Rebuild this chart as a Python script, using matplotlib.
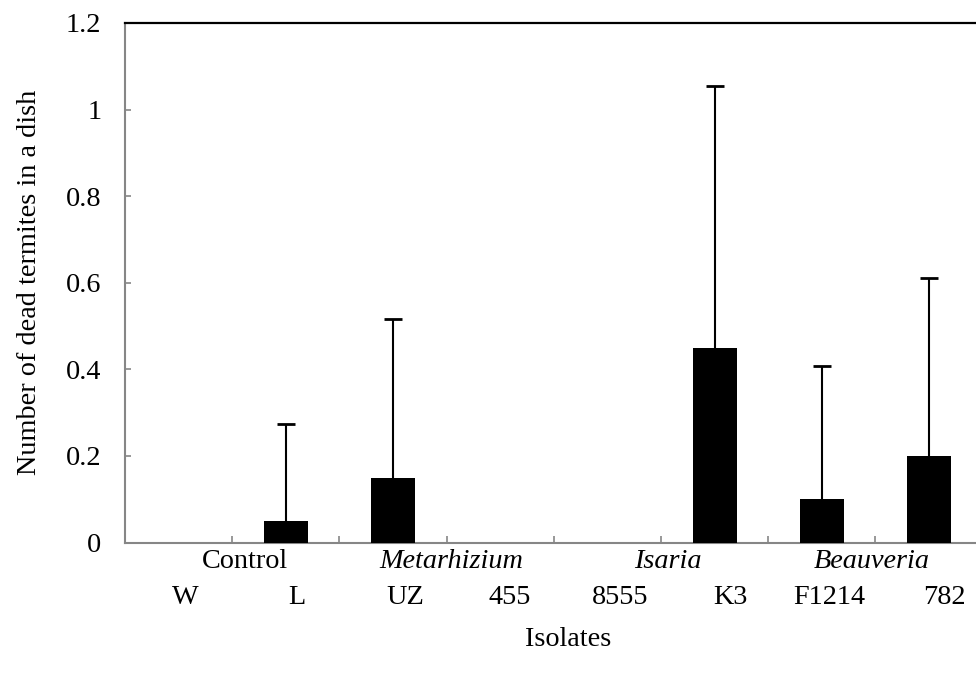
import matplotlib
matplotlib.use("Agg")
import matplotlib.pyplot as plt
from matplotlib.transforms import blended_transform_factory, ScaledTranslation
import numpy as np

isolates = ["W", "L", "UZ", "455", "8555", "K3", "F1214", "782"]
means = [0.0, 0.05, 0.15, 0.0, 0.0, 0.45, 0.10, 0.20]
sds = [0.0, 0.224, 0.366, 0.0, 0.0, 0.605, 0.308, 0.41]
groups = ["Control", "Metarhizium", "Isaria", "Beauveria"]
group_italic = [False, True, True, True]
yticks = [0, 0.2, 0.4, 0.6, 0.8, 1.0, 1.2]
ytick_labels = ["0", "0.2", "0.4", "0.6", "0.8", "1", "1.2"]

# small horizontal label nudges (pixels), as laid out in the original
iso_shift = [7, 11, 12, 9, 13, 16, 8, 15]
grp_shift = [13, 5, 7, -4]

plt.rcParams['font.family'] = ['Liberation Serif', 'DejaVu Serif']
FS = 20.3
GRAY = '#868686'

W, H = 976, 673
fig = plt.figure(figsize=(W / 100, H / 100), dpi=100)
ax = fig.add_axes([125 / W, 1 - 542.5 / H, 857.6 / W, 519.5 / H])

x = np.arange(len(isolates))
m = np.array(means)
s = np.array(sds)
nz = m > 0
ax.bar(x[nz], m[nz], width=0.41, color='black', linewidth=0, zorder=3)
# upward-only error bars (whisker + top cap)
ex = x[s > 0]
ax.vlines(ex, m[s > 0], (m + s)[s > 0], colors='black', linewidth=1.5, zorder=2)
ax.plot(ex, (m + s)[s > 0], linestyle='none', marker='_', markersize=13,
        markeredgewidth=2.0, color='black', zorder=2)

ax.set_xlim(-0.5, len(isolates) - 0.5)
ax.set_ylim(0, 1.2)

# y axis
ax.set_yticks(yticks)
ax.set_yticklabels(ytick_labels, fontsize=FS)
ax.tick_params(axis='y', direction='in', length=4.5, width=1.2, color=GRAY, pad=17)

# x axis: ticks at category boundaries
ax.set_xticks(np.arange(0.5, len(isolates) - 0.5, 1.0))
ax.set_xticklabels([])
ax.tick_params(axis='x', direction='in', length=5, width=1.2, color=GRAY)

for sp in ['left', 'bottom']:
    ax.spines[sp].set_color(GRAY)
    ax.spines[sp].set_linewidth(1.5)
ax.spines['top'].set_color('black')
ax.spines['top'].set_linewidth(1.6)
ax.spines['right'].set_visible(False)

trans = blended_transform_factory(ax.transData, fig.transFigure)
for i, lab in enumerate(isolates):
    off = ScaledTranslation(iso_shift[i] / 100, 0, fig.dpi_scale_trans)
    ax.text(i, 1 - 598 / H, lab, transform=trans + off, ha='center', va='center',
            fontsize=FS)
for g, (name, it) in enumerate(zip(groups, group_italic)):
    goff = ScaledTranslation(grp_shift[g] / 100, 0, fig.dpi_scale_trans)
    ax.text(2 * g + 0.5, 1 - 561 / H, name, transform=trans + goff, ha='center',
            va='center', fontsize=FS, style='italic' if it else 'normal')

fig.text(568 / W, 1 - 640 / H, "Isolates", ha='center', va='center', fontsize=FS)
ax.set_ylabel("Number of dead termites in a dish", fontsize=FS, labelpad=17)

fig.savefig("out.png", dpi=100)
